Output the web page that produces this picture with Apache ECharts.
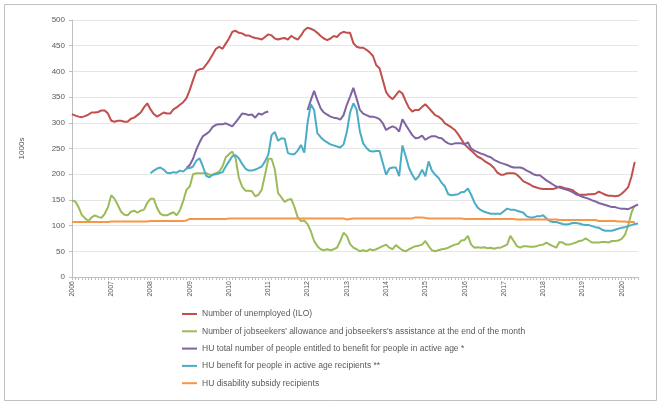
<!DOCTYPE html>
<html>
<head>
<meta charset="utf-8">
<script src="https://cdn.jsdelivr.net/npm/echarts/dist/echarts.min.js"></script>
<style>
  html, body { margin: 0; padding: 0; background: #fff; }
  #chart { width: 661px; height: 405px; }
</style>
</head>
<body>
<div id="chart"></div>
<script>
// year labels on the category axis, one category per month (Jan 2006 - Jun 2020)
var years = ['2006', '2007', '2008', '2009', '2010', '2011', '2012', '2013',
    '2014', '2015', '2016', '2017', '2018', '2019', '2020'];
var lastYearMonths = 6;

var categories = [];
years.forEach(function (y, yi) {
    var n = yi === years.length - 1 ? lastYearMonths : 12;
    for (var m = 1; m <= n; m++) {
        categories.push(y + '-' + (m < 10 ? '0' + m : m));
    }
});

var _ = null;

// Number of unemployed (ILO), thousands
var unemployed = [
    317, 314, 312, 311, 313, 316, 320, 320, 321, 324, 324, 318,
    304, 302, 304, 304, 302, 302, 308, 310, 315, 320, 330, 338,
    326, 317, 312, 316, 320, 318, 318, 326, 330, 335, 340, 348,
    364, 383, 401, 404, 405, 413, 422, 433, 444, 448, 444, 454,
    464, 477, 479, 475, 474, 470, 470, 467, 465, 464, 462, 467,
    472, 470, 464, 462, 464, 465, 462, 469, 465, 462, 470, 480,
    485, 483, 480, 475, 469, 464, 461, 464, 469, 467, 474, 477,
    475, 475, 455, 448, 446, 446, 442, 437, 430, 412, 406, 383,
    360, 351, 346, 354, 362, 357, 342, 329, 322, 325, 325, 331,
    336, 329, 322, 315, 312, 307, 299, 295, 291, 286, 278, 268,
    258, 252, 246, 240, 234, 231, 226, 222, 218, 212, 203, 199,
    199, 202, 202, 202, 199, 193, 186, 183, 180, 176, 174, 172,
    171, 171, 171, 171, 173, 176, 174, 172, 171, 169, 164, 160,
    160, 160, 161, 161, 162, 166, 163, 160, 158, 158, 157, 158,
    162, 168, 175, 195, 224
];

// Jobseekers' allowance and jobseekers's assistance, end of month
var jobseekers = [
    149, 147, 136, 121, 114, 109, 116, 120, 117, 115, 123, 136,
    159, 152, 140, 127, 121, 120, 127, 129, 125, 129, 131, 144,
    152, 152, 134, 123, 120, 120, 123, 126, 120, 130, 148, 170,
    176, 200, 202, 202, 202, 202, 199, 199, 202, 205, 215, 233,
    239, 244, 231, 193, 176, 168, 168, 167, 157, 160, 170, 199,
    230, 230, 209, 163, 155, 146, 150, 152, 136, 116, 109, 110,
    103, 89, 70, 60, 54, 52, 54, 52, 54, 57, 70, 86,
    80, 64, 57, 54, 50, 52, 50, 54, 52, 54, 57, 60,
    63, 57, 54, 62, 57, 52, 50, 54, 57, 60, 61, 63,
    70, 60, 52, 50, 52, 54, 55, 57, 60, 63, 64, 71,
    72, 80, 63, 57, 58, 57, 58, 56, 57, 55, 57, 57,
    60, 63, 80, 70, 60, 57, 60, 60, 59, 59, 60, 62,
    63, 67, 63, 60, 57, 68, 67, 63, 63, 65, 67, 70,
    71, 75, 71, 67, 67, 67, 68, 68, 67, 70, 70, 71,
    74, 82, 100, 125, 140
];

// HU total number of people entitled to benefit for people in active age
var huTotal = [
    _, _, _, _, _, _, _, _, _, _, _, _,
    _, _, _, _, _, _, _, _, _, _, _, _,
    _, _, _, _, _, _, _, _, _, _, _, 212,
    218, 230, 248, 262, 274, 278, 283, 292, 296, 297, 297, 299,
    296, 293, 301, 309, 318, 317, 315, 316, 310, 318, 316, 320,
    322, _, _, _, _, _, _, _, _, _, _, _,
    325, 344, 362, 344, 328, 320, 316, 312, 310, 309, 306, 315,
    335, 351, 368, 347, 325, 318, 315, 312, 312, 310, 307, 299,
    286, 290, 293, 290, 283, 307, 296, 286, 276, 270, 271, 275,
    267, 271, 274, 274, 271, 270, 264, 260, 258, 260, 260, 260,
    258, 262, 250, 246, 243, 240, 238, 235, 233, 228, 225, 222,
    220, 218, 215, 213, 213, 213, 211, 207, 204, 200, 198, 198,
    193, 188, 184, 180, 176, 174, 172, 170, 168, 165, 161, 159,
    156, 154, 152, 149, 147, 144, 142, 140, 138, 136, 136, 134,
    133, 133, 132, 135, 138, 141
];

// HU benefit for people in active age recipients
var huBenefit = [
    _, _, _, _, _, _, _, _, _, _, _, _,
    _, _, _, _, _, _, _, _, _, _, _, _,
    202, 207, 211, 213, 209, 203, 202, 204, 203, 207, 205, 211,
    212, 215, 226, 231, 215, 197, 194, 199, 200, 202, 204, 215,
    225, 235, 237, 231, 220, 211, 207, 207, 209, 212, 215, 225,
    238, 276, 282, 265, 270, 269, 241, 239, 239, 246, 257, 242,
    300, 336, 325, 280, 272, 266, 262, 258, 256, 254, 252, 258,
    282, 320, 338, 326, 283, 260, 251, 245, 244, 245, 245, 222,
    199, 211, 213, 213, 196, 256, 235, 212, 199, 189, 196, 209,
    196, 225, 207, 199, 193, 183, 176, 161, 159, 160, 161, 165,
    166, 172, 160, 145, 135, 130, 127, 125, 123, 123, 123, 123,
    128, 133, 131, 131, 129, 127, 125, 118, 116, 116, 118, 118,
    120, 114, 109, 107, 107, 105, 103, 102, 103, 105, 105, 104,
    102, 101, 101, 99, 97, 96, 92, 90, 90, 90, 92, 94,
    96, 97, 99, 101, 103, 104
];

// HU disability subsidy recipients
var huDisability = [
    107, 107, 107, 107, 107, 107, 107, 107, 107, 107, 107, 107,
    108, 108, 108, 108, 108, 108, 108, 108, 108, 108, 108, 108,
    109, 109, 109, 109, 109, 109, 109, 109, 109, 109, 109, 110,
    113, 113, 113, 113, 113, 113, 113, 113, 113, 113, 113, 113,
    114, 114, 114, 114, 114, 114, 114, 114, 114, 114, 114, 114,
    114, 114, 114, 114, 114, 114, 114, 114, 114, 114, 114, 114,
    114, 114, 114, 114, 114, 114, 114, 114, 114, 114, 114, 114,
    112, 113, 114, 114, 114, 114, 114, 114, 114, 114, 114, 114,
    114, 114, 114, 114, 114, 114, 114, 114, 114, 116, 116, 116,
    115, 114, 114, 114, 114, 114, 114, 114, 114, 114, 114, 114,
    113, 113, 113, 113, 113, 113, 113, 113, 113, 113, 113, 113,
    113, 113, 113, 113, 112, 112, 112, 112, 112, 112, 112, 112,
    112, 112, 112, 112, 112, 111, 111, 111, 111, 111, 111, 111,
    111, 111, 111, 111, 111, 109, 109, 109, 109, 109, 109, 108,
    108, 108, 107, 107, 107
];

var seriesNames = [
    'Number of unemployed (ILO)',
    'Number of jobseekers\' allowance and jobseekers\'s assistance at the end of the month',
    'HU total number of people entitled to benefit for people in active age *',
    'HU benefit for people in active age recipients **',
    'HU disability subsidy recipients'
];
var seriesData = [unemployed, jobseekers, huTotal, huBenefit, huDisability];
var colors = ['#C0504D', '#9BBB59', '#8064A2', '#4BACC6', '#F79646'];

var labelColor = '#595959';
var axisColor = '#BFBFBF';

var chart = echarts.init(document.getElementById('chart'));

var option = {
    animation: false,
    color: colors,
    grid: {
        left: 72,
        right: 23,
        top: 20,
        bottom: 128
    },
    graphic: [{
        type: 'rect',
        shape: { x: 4.5, y: 4.5, width: 652, height: 396 },
        style: { fill: 'none', stroke: '#BFBFBF', lineWidth: 1 },
        silent: true
    }],
    legend: {
        orient: 'vertical',
        left: 182,
        top: 309,
        padding: 0,
        icon: 'rect',
        itemWidth: 15,
        itemHeight: 2,
        itemGap: 7.3,
        textStyle: {
            color: labelColor,
            fontSize: 8.5,
            lineHeight: 10,
            fontFamily: 'Liberation Sans'
        },
        data: seriesNames
    },
    xAxis: {
        type: 'category',
        data: categories,
        boundaryGap: false,
        axisLine: { lineStyle: { color: axisColor } },
        axisTick: {
            interval: 0,
            length: 3,
            lineStyle: { color: axisColor }
        },
        axisLabel: {
            interval: 11,
            rotate: 90,
            margin: 4,
            fontSize: 7,
            color: labelColor,
            fontFamily: 'Liberation Sans',
            formatter: function (value) {
                return value.substring(0, 4);
            }
        },
        splitLine: { show: false }
    },
    yAxis: {
        type: 'value',
        min: 0,
        max: 500,
        interval: 50,
        name: '1000s',
        nameLocation: 'middle',
        nameGap: 46,
        nameRotate: 90,
        nameTextStyle: {
            color: labelColor,
            fontSize: 8,
            fontFamily: 'Liberation Sans'
        },
        axisLine: { show: true, lineStyle: { color: axisColor } },
        axisTick: { show: true, length: 3, lineStyle: { color: axisColor } },
        axisLabel: {
            margin: 7,
            fontSize: 8,
            color: labelColor,
            fontFamily: 'Liberation Sans'
        },
        splitLine: { lineStyle: { color: '#E6E6E6', width: 1 } }
    },
    series: seriesNames.map(function (name, i) {
        return {
            name: name,
            type: 'line',
            data: seriesData[i],
            symbol: 'none',
            connectNulls: false,
            lineStyle: { width: 2, color: colors[i] },
            itemStyle: { color: colors[i] }
        };
    })
};

chart.setOption(option);
</script>
</body>
</html>
